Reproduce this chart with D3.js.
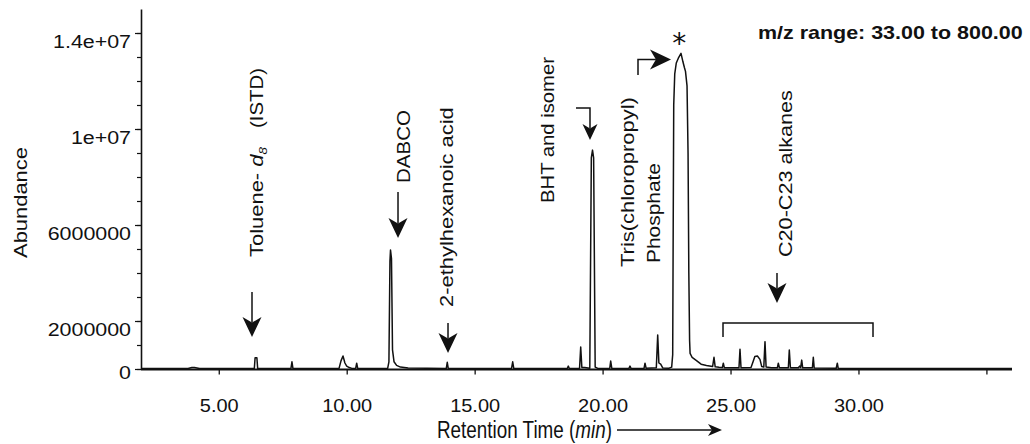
<!DOCTYPE html>
<html><head><meta charset="utf-8">
<script src="https://cdn.jsdelivr.net/npm/d3@7"></script>
<style>
html,body{margin:0;padding:0;background:#fff;}
svg text{font-family:"Liberation Sans",Arial,Helvetica,sans-serif;fill:#111;}
</style></head><body>
<svg id="chart" width="1030" height="444"></svg>
<script>
// ---------------- data ----------------
const traceTime = [2.00,3.80,3.95,4.05,4.25,6.39,6.42,6.49,6.52,7.82,7.86,7.90,
  9.70,9.78,9.855,9.93,10.00,10.10,10.20,10.35,10.39,10.43,
  11.60,11.65,11.69,11.712,11.75,11.79,11.85,11.95,12.10,12.40,
  13.89,13.93,13.97,16.44,16.487,16.53,18.62,18.66,18.70,
  19.10,19.145,19.19,19.30,19.50,19.56,19.606,19.65,19.71,19.80,
  20.28,20.317,20.36,21.03,21.071,21.11,21.62,21.658,21.70,
  22.10,22.154,22.20,22.27,22.35,22.60,22.70,22.74,22.76,22.78,22.82,22.88,22.96,
  23.065,23.14,23.20,23.24,23.30,23.34,23.37,23.40,23.42,23.50,23.67,23.85,24.06,24.30,
  24.354,24.40,24.55,24.68,24.718,24.76,25.33,25.37,25.41,
  25.80,25.88,25.95,26.05,26.15,26.22,26.30,26.347,26.39,26.60,26.83,26.867,26.91,
  27.26,27.297,27.34,27.65,27.70,27.74,27.782,27.82,28.20,28.235,28.27,
  29.13,29.173,29.21,30.50,36.00];
const traceAbund = [20000,20000,60000,60000,20000,20000,470000,470000,25000,20000,300000,20000,
  25000,350000,540000,250000,120000,60000,25000,25000,240000,25000,
  25000,300000,4500000,4960000,4600000,800000,300000,150000,80000,40000,
  20000,280000,20000,20000,300000,20000,20000,120000,20000,
  35000,920000,60000,60000,35000,8800000,9120000,8800000,80000,35000,
  25000,330000,25000,25000,120000,25000,25000,240000,35000,
  50000,1420000,250000,200000,45000,35000,80000,600000,6000000,11000000,12300000,12750000,12950000,
  13150000,12800000,12550000,12400000,11800000,9000000,4000000,1200000,650000,480000,350000,200000,150000,100000,
  490000,90000,70000,60000,240000,50000,50000,820000,50000,
  60000,300000,520000,540000,400000,100000,80000,1140000,80000,50000,50000,240000,50000,
  50000,790000,50000,50000,120000,60000,370000,50000,50000,490000,40000,
  30000,240000,25000,20000,20000];

const xTickValues = [5,10,15,20,25,30,35];
const xTickLabels = ["5.00","10.00","15.00","20.00","25.00","30.00",""];
const yTickValues = [0,2000000,6000000,10000000,14000000];
const yTickLabels = ["0","2000000","6000000","1e+07","1.4e+07"];
const yMinorTicks = [0,1000000,2000000,3000000,4000000,5000000,6000000,7000000,8000000,
  9000000,10000000,11000000,12000000,13000000,14000000];

// vertical peak labels: baseline time, start abundance (bottom), end abundance (top)
const labelText  = ["(ISTD)","DABCO","2-ethylhexanoic acid","BHT and isomer","Tris(chloropropyl)","Phosphate","C20-C23 alkanes"];
const labelTime  = [6.729,12.474,14.154,18.10,21.228,22.244,27.403];
const labelFrom  = [10040000,7750000,2583000,6917000,4250000,4417000,4667000];
const labelTo    = [12540000,10790000,10917000,13000000,11333000,8583000,11625000];
// Toluene-d8 label (with subscript)
const tolueneTime = 6.729, tolueneFrom = 4667000, tolueneTo = 9250000;

// straight down arrows
const arrowTime = [6.299,12.005,13.959,26.816];
const arrowFrom = [3208000,7375000,1917000,4000000];
const arrowTo   = [1333000,5458000,667000,2750000];
// bent arrows
const bhtArrowT = [18.961,19.508,19.508], bhtArrowA = [10875000,10875000,9542000];
const tcppArrowT = [21.384,21.384,22.674], tcppArrowA = [12250000,12896000,12896000];
// bracket over C20-C23 alkanes
const bracketT = [24.706,24.706,30.568,30.568], bracketA = [1333000,1917000,1917000,1333000];
// asterisk over main peak, m/z note
const starTime = 23.0, starAbund = 13167000;
const mzText = "m/z range: 33.00 to 800.00", mzTime = 26.07, mzAbund = 13750000;

// ---------------- drawing ----------------
const svg = d3.select("#chart");
const x = d3.scaleLinear().domain([2,36]).range([142,1012]);
const y = d3.scaleLinear().domain([0,15000000]).range([369,9]);
const INK = "#111";

function stretchTo(sel, base, target){
  const L = sel.node().getComputedTextLength();
  sel.attr("transform", base + ` scale(${target/L},1)`);
}

// y axis (minor ticks + domain line)
const gy = svg.append("g").attr("transform","translate(141,0)")
  .call(d3.axisLeft(y).tickValues(yMinorTicks).tickSize(4).tickSizeOuter(0).tickFormat(""));
gy.select(".domain").attr("stroke",INK).attr("stroke-width",1.6);
gy.selectAll(".tick line").attr("stroke",INK).attr("stroke-width",1.2);
// labelled y ticks
const gy2 = svg.append("g").attr("transform","translate(141,0)")
  .call(d3.axisLeft(y).tickValues(yTickValues).tickSize(6).tickSizeOuter(0)
    .tickFormat((d,i)=>yTickLabels[i]));
gy2.select(".domain").remove();
gy2.selectAll(".tick line").attr("stroke",INK).attr("stroke-width",1.2);
gy2.selectAll(".tick text")
  .attr("x",0).attr("y",0).attr("dy",null)
  .style("font-size","18px").attr("text-anchor","end")
  .attr("transform",d=>`translate(-10,${d===0?9.5:14}) scale(1.19,1)`);

// x axis
const gx = svg.append("g").attr("transform","translate(0,369.5)")
  .call(d3.axisBottom(x).tickValues(xTickValues).tickSize(5).tickSizeOuter(0)
    .tickFormat((d,i)=>xTickLabels[i]));
gx.select(".domain").attr("stroke",INK).attr("stroke-width",2).attr("d","M141,0H1012");
gx.selectAll(".tick line").attr("stroke",INK).attr("stroke-width",1.3);
gx.selectAll(".tick text")
  .attr("x",0).attr("y",0).attr("dy",null)
  .style("font-size","18.5px").attr("text-anchor","middle")
  .attr("transform","translate(0,42.5) scale(1.08,1)");

// chromatogram trace
const line = d3.line().x(d=>x(traceTime[d])).y(d=>y(traceAbund[d]));
svg.append("path").datum(d3.range(traceTime.length))
  .attr("d",line).attr("fill","none").attr("stroke",INK)
  .attr("stroke-width",1.5).attr("stroke-linejoin","round");

// axis titles
const ab = svg.append("text").text("Abundance").style("font-size","19px").attr("text-anchor","middle");
stretchTo(ab,"translate(27,202.5) rotate(-90)",111);

const rt = svg.append("text").style("font-size","23.5px").attr("text-anchor","start");
rt.append("tspan").text("Retention Time (");
rt.append("tspan").text("min").style("font-style","italic");
rt.append("tspan").text(")");
stretchTo(rt,"translate(437,437.5)",175);

// arrow helpers
const ann = svg.append("g");
function arrowHead(tip, dir, L, W){
  const px=-dir[1], py=dir[0];
  const p = [
    [tip[0],tip[1]],
    [tip[0]-dir[0]*L+px*W, tip[1]-dir[1]*L+py*W],
    [tip[0]-dir[0]*L*0.72, tip[1]-dir[1]*L*0.72],
    [tip[0]-dir[0]*L-px*W, tip[1]-dir[1]*L-py*W]];
  ann.append("path").attr("d","M"+p.map(q=>q.join(",")).join("L")+"Z").attr("fill",INK);
}
function arrow(pts, L, W){
  const n=pts.length, a=pts[n-2], b=pts[n-1];
  const dx=b[0]-a[0], dy=b[1]-a[1], len=Math.hypot(dx,dy), dir=[dx/len,dy/len];
  const end=[b[0]-dir[0]*L*0.72, b[1]-dir[1]*L*0.72];
  const lp = pts.slice(0,n-1).concat([end]);
  ann.append("path").attr("d","M"+lp.map(q=>q.join(",")).join("L"))
    .attr("fill","none").attr("stroke",INK).attr("stroke-width",1.5);
  arrowHead(b, dir, L, W);
}
arrowTime.forEach((t,i)=>arrow([[x(t),y(arrowFrom[i])],[x(t),y(arrowTo[i])]],20,9.5));
arrow(bhtArrowT.map((t,i)=>[x(t),y(bhtArrowA[i])]),16,7.5);
arrow(tcppArrowT.map((t,i)=>[x(t),y(tcppArrowA[i])]),21,10);
ann.append("path").attr("d","M"+bracketT.map((t,i)=>[x(t),y(bracketA[i])].join(",")).join("L"))
  .attr("fill","none").attr("stroke",INK).attr("stroke-width",1.5);

// title arrow (after "Retention Time (min)")
arrow([[617,430],[722,430]],14,6);

// vertical labels
labelText.forEach((s,i)=>{
  const t = svg.append("text").text(s).style("font-size","18px").attr("text-anchor","start");
  stretchTo(t,`translate(${x(labelTime[i])},${y(labelFrom[i])}) rotate(-90)`, y(labelFrom[i])-y(labelTo[i]));
});
const tol = svg.append("text").style("font-size","18px").attr("text-anchor","start");
tol.append("tspan").text("Toluene- ");
tol.append("tspan").text("d").style("font-style","italic");
tol.append("tspan").text("8").style("font-style","italic").style("font-size","11px").attr("dy",4);
stretchTo(tol,`translate(${x(tolueneTime)},${y(tolueneFrom)}) rotate(-90)`, y(tolueneFrom)-y(tolueneTo));

// asterisk
svg.append("text").text("*").attr("x",x(starTime)).attr("y",y(starAbund))
  .attr("text-anchor","middle").style("font-family","'DejaVu Sans'").style("font-size","28px");

// m/z range
const mz = svg.append("text").text(mzText).style("font-size","18px").style("font-weight","bold");
stretchTo(mz,`translate(${x(mzTime)},${y(mzAbund)})`,265);
</script>
</body></html>
